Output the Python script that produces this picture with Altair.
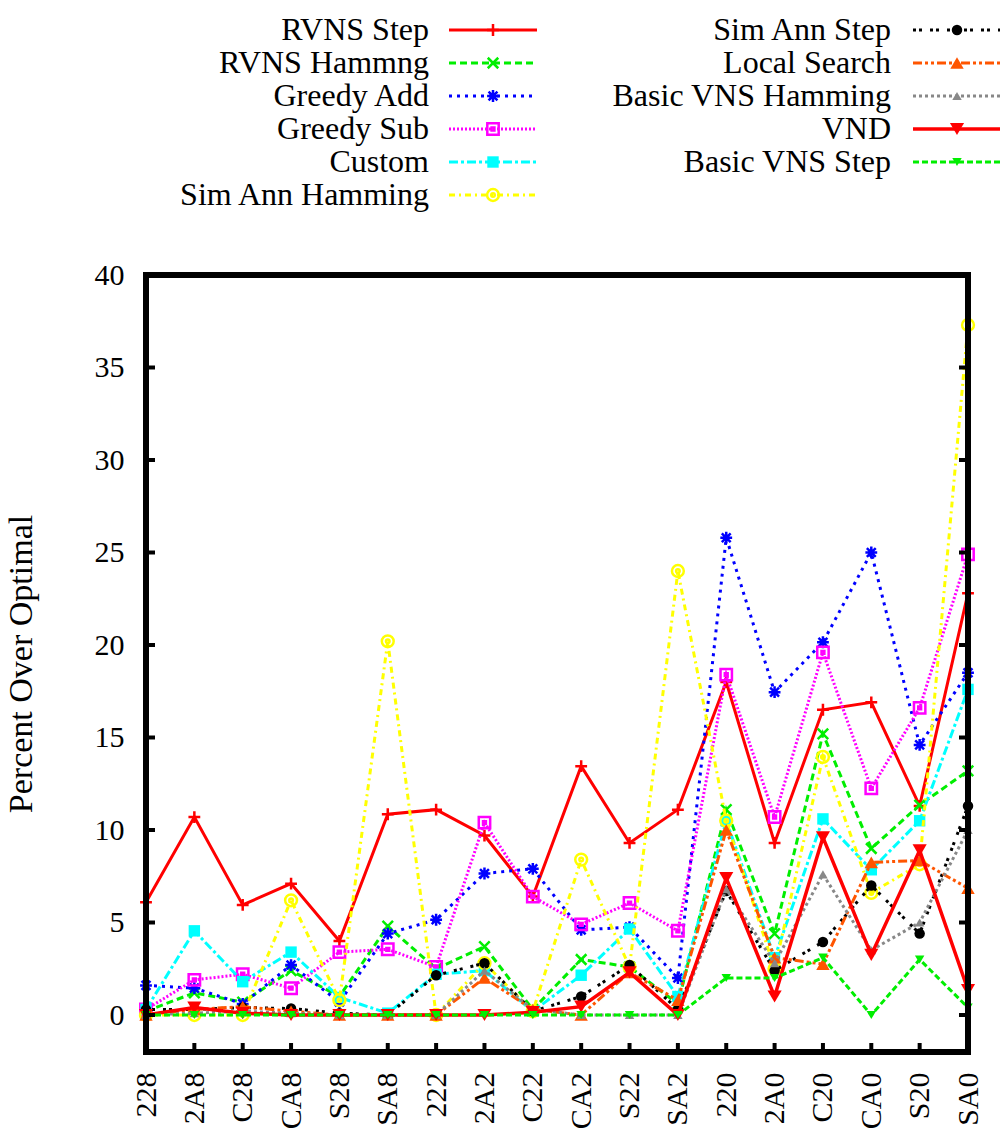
import altair as alt
import pandas as pd

CATS = ["228", "2A8", "C28", "CA8", "S28", "SA8", "222", "2A2", "C22",
        "CA2", "S22", "SA2", "220", "2A0", "C20", "CA0", "S20", "SA0"]

RVNS_STEP = [6.1, 10.7, 5.95, 7.1, 4.0, 10.85, 11.1, 9.7, 6.4, 13.45, 9.3, 11.1, 18.0, 9.3, 16.5, 16.9, 11.3, 22.8]
RVNS_HAMMNG = [0.2, 1.2, 0.7, 2.4, 1.0, 4.8, 2.5, 3.7, 0.3, 3.0, 2.6, 0.6, 11.1, 4.4, 15.2, 9.0, 11.35, 13.2]
GREEDY_ADD = [1.6, 1.45, 0.6, 2.7, 0.7, 4.4, 5.15, 7.65, 7.9, 4.6, 4.75, 2.0, 25.8, 17.45, 20.15, 25.0, 14.6, 18.5]
GREEDY_SUB = [0.3, 1.9, 2.2, 1.45, 3.4, 3.55, 2.6, 10.4, 6.4, 4.9, 6.05, 4.55, 18.4, 10.7, 19.6, 12.25, 16.6, 24.9]
CUSTOM = [0.3, 4.55, 1.8, 3.4, 0.95, 0.1, 2.2, 2.4, 0.2, 2.15, 4.65, 1.0, 10.5, 3.1, 10.6, 7.85, 10.5, 17.6]
SIM_ANN_HAMMING = [0.0, 0.0, 0.0, 6.2, 0.8, 20.2, 0.0, 2.8, 0.2, 8.4, 2.6, 24.0, 10.5, 2.5, 13.95, 6.6, 8.15, 37.3]
SIM_ANN_STEP = [0.3, 0.3, 0.4, 0.35, 0.1, 0.0, 2.15, 2.8, 0.2, 1.0, 2.7, 0.3, 6.7, 2.4, 3.95, 7.0, 4.4, 11.3]
LOCAL_SEARCH = [0.0, 0.3, 0.45, 0.2, 0.0, 0.0, 0.0, 2.0, 0.3, 0.0, 2.3, 0.8, 10.0, 3.1, 2.75, 8.25, 8.35, 6.85]
BASIC_VNS_HAMMING = [0.0, 0.1, 0.2, 0.1, 0.0, 0.0, 0.0, 2.4, 0.3, 0.0, 0.0, 0.0, 6.8, 2.8, 7.6, 3.5, 5.0, 10.0]
VND = [0.0, 0.4, 0.1, 0.0, 0.0, 0.0, 0.0, 0.0, 0.15, 0.45, 2.3, 0.0, 7.4, 1.0, 9.6, 3.25, 8.9, 1.35]
BASIC_VNS_STEP = [0.0, 0.0, 0.0, 0.0, 0.0, 0.0, 0.0, 0.0, 0.0, 0.0, 0.0, 0.0, 2.0, 2.0, 3.1, 0.0, 3.0, 0.4]

Y_TICKS = [0, 5, 10, 15, 20, 25, 30, 35, 40]

PLUS = "M-1,0L1,0M0,-1L0,1"
XCROSS = "M-1,-1L1,1M-1,1L1,-1"
STAR = "M-1,0L1,0M0,-1L0,1M-0.75,-0.75L0.75,0.75M-0.75,0.75L0.75,-0.75"
BOXDOT = "M-1,-1L1,-1L1,1L-1,1ZM-0.25,-0.25L0.25,-0.25L0.25,0.25L-0.25,0.25Z"
CIRCDOT = "M1,0A1,1,0,1,1,-1,0A1,1,0,1,1,1,0ZM0.3,0A0.3,0.3,0,1,1,-0.3,0A0.3,0.3,0,1,1,0.3,0Z"

# name, values, color, dash, line width, shape, size, filled, legend col, legend row
SERIES = [
    ("RVNS Step", RVNS_STEP, "#ff0000", [], 3, PLUS, 140, False, 0, 0),
    ("RVNS Hammng", RVNS_HAMMNG, "#00ee00", [7, 4], 3, XCROSS, 110, False, 0, 1),
    ("Greedy Add", GREEDY_ADD, "#0000ff", [3, 5], 3, STAR, 140, False, 0, 2),
    ("Greedy Sub", GREEDY_SUB, "#ff00ff", [2, 2], 3, BOXDOT, 130, False, 0, 3),
    ("Custom", CUSTOM, "#00ffff", [9, 3, 3, 3], 3, "square", 130, True, 0, 4),
    ("Sim Ann Hamming", SIM_ANN_HAMMING, "#ffff00", [6, 4, 2, 4], 3, CIRCDOT, 140, False, 0, 5),
    ("Sim Ann Step", SIM_ANN_STEP, "#000000", [3, 3, 3, 8], 3, "circle", 110, True, 1, 0),
    ("Local Search", LOCAL_SEARCH, "#ff5500", [9, 3, 3, 3, 3, 3], 3, "triangle-up", 180, True, 1, 1),
    ("Basic VNS Hamming", BASIC_VNS_HAMMING, "#888888", [3, 3], 3, "triangle-up", 90, True, 1, 2),
    ("VND", VND, "#ff0000", [], 3.5, "triangle-down", 200, True, 1, 3),
    ("Basic VNS Step", BASIC_VNS_STEP, "#00ee00", [6, 3], 3, "triangle-down", 90, True, 1, 4),
]

FONT = "Liberation Serif"
W, H = 822, 777
ORIGIN_X = 145           # page x of the plot's left edge
PAD_L = 4
LEG_W, LEG_H = 1003 - ORIGIN_X - 4, 250

rows = []
for name, vals, *_ in SERIES:
    for c, v in zip(CATS, vals):
        rows.append({"series": name, "cat": c, "value": v})
df = pd.DataFrame(rows)

xscale = alt.Scale(type="point", domain=CATS, padding=0)
yscale = alt.Scale(domain=[-2, 40], nice=False, zero=False)
xaxis = alt.Axis(labelAngle=-90, labelFontSize=30, labelPadding=20, ticks=False,
                 domain=False, grid=False, title=None, labelFont=FONT, labelColor="black")
yaxis = alt.Axis(values=Y_TICKS, labelFontSize=30, labelPadding=22, ticks=False, domain=False,
                 grid=False, title="Percent Over Optimal", titleFontSize=34, titleFontWeight="normal",
                 titlePadding=56, titleFont=FONT, labelFont=FONT, labelColor="black", titleColor="black")

X = alt.X("cat:N", scale=xscale, axis=xaxis, sort=CATS)
Y = alt.Y("value:Q", scale=yscale, axis=yaxis)

layers = []
for name, vals, color, dash, lw, shape, size, filled, col, row in SERIES:
    base = alt.Chart(df).transform_filter(alt.datum.series == name)
    lkw = dict(color=color, strokeWidth=lw)
    if dash:
        lkw["strokeDash"] = dash
    layers.append(base.mark_line(**lkw).encode(x=X, y=Y))
    pkw = dict(shape=shape, size=size, filled=filled, opacity=1)
    if filled:
        pkw["fill"] = color
    else:
        pkw["stroke"] = color
        pkw["strokeWidth"] = 2.5
    layers.append(base.mark_point(**pkw).encode(x=X, y=Y))

ytick_df = pd.DataFrame({"value": Y_TICKS})
cat_df = pd.DataFrame({"cat": CATS[1:-1]})
one = pd.DataFrame({"a": [0]})

layers.append(alt.Chart(ytick_df).mark_rule(color="black", strokeWidth=4).encode(
    y=Y, x=alt.value(0), x2=alt.value(9)))
layers.append(alt.Chart(ytick_df).mark_rule(color="black", strokeWidth=4).encode(
    y=Y, x=alt.value(W - 9), x2=alt.value(W)))
layers.append(alt.Chart(cat_df).mark_rule(color="black", strokeWidth=4).encode(
    x=X, y=alt.value(H - 9), y2=alt.value(H)))
layers.append(alt.Chart(one).mark_rect(filled=False, stroke="black", strokeWidth=6).encode(
    x=alt.value(0), x2=alt.value(W), y=alt.value(0), y2=alt.value(H)))

main = alt.layer(*layers).properties(width=W, height=H)

# Legend (positions in page pixels, mapped through identity scales)
TEXT_RIGHT = [428, 890]
LINE_START = [448, 912]
LINE_END = [536, 999]
MARK_X = [492, 956]
ROW_Y0, ROW_DY = 30, 33

leg_rows = []
for name, vals, color, dash, lw, shape, size, filled, col, row in SERIES:
    leg_rows.append({"series": name, "tx": TEXT_RIGHT[col], "x0": LINE_START[col],
                     "x1": LINE_END[col], "mx": MARK_X[col], "y": ROW_Y0 + ROW_DY * row})
leg_df = pd.DataFrame(leg_rows)

lx = alt.Scale(domain=[ORIGIN_X, ORIGIN_X + LEG_W], range=[0, LEG_W], nice=False, zero=False)
ly = alt.Scale(domain=[0, LEG_H], range=[0, LEG_H], nice=False, zero=False)

leg_layers = []
for name, vals, color, dash, lw, shape, size, filled, col, row in SERIES:
    b = alt.Chart(leg_df).transform_filter(alt.datum.series == name)
    leg_layers.append(b.mark_text(align="right", baseline="middle", font=FONT, fontSize=32,
                                  color="black").encode(
        x=alt.X("tx:Q", scale=lx, axis=None), y=alt.Y("y:Q", scale=ly, axis=None),
        text="series:N"))
    rkw = dict(color=color, strokeWidth=lw)
    if dash:
        rkw["strokeDash"] = dash
    leg_layers.append(b.mark_rule(**rkw).encode(
        x=alt.X("x0:Q", scale=lx, axis=None), x2="x1:Q", y=alt.Y("y:Q", scale=ly, axis=None)))
    pkw = dict(shape=shape, size=size, filled=filled, opacity=1)
    if filled:
        pkw["fill"] = color
    else:
        pkw["stroke"] = color
        pkw["strokeWidth"] = 2.5
    leg_layers.append(b.mark_point(**pkw).encode(
        x=alt.X("mx:Q", scale=lx, axis=None), y=alt.Y("y:Q", scale=ly, axis=None)))

legend = alt.layer(*leg_layers).properties(width=LEG_W, height=LEG_H)

chart = alt.vconcat(legend, main, spacing=10).properties(
    padding={"left": PAD_L, "top": 0, "right": 0, "bottom": 0},
    background="white",
).configure_view(strokeWidth=0)

chart.save("out.html", embed_options={"renderer": "svg", "actions": False})
